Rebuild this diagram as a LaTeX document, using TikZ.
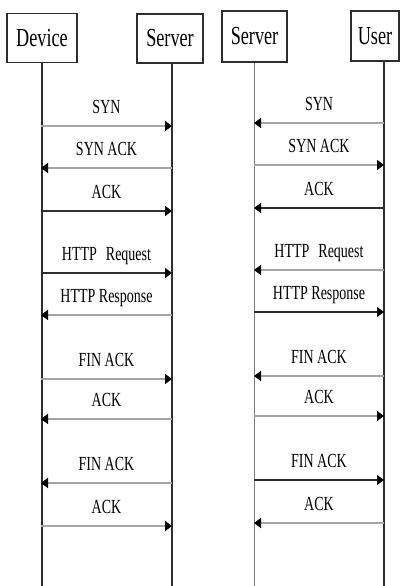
\documentclass[tikz,border=0pt]{standalone}
\usepackage{fontspec}
\setmainfont[FakeStretch=0.7]{Liberation Serif}
\usetikzlibrary{arrows.meta}

\definecolor{msggray}{HTML}{A6A6A6}
\definecolor{msgdark}{HTML}{2E2E2E}
\tikzset{
  party/.style={draw=msgdark, line width=1.3pt, fill=white, inner sep=0pt,
    minimum height=49pt, font=\fontsize{26}{26}\selectfont},
  life/.style={draw=msgdark, line width=1.2pt},
  msg/.style={draw=msggray, line width=2.2pt,
    -{Triangle[length=7pt,width=10pt,color=black]}},
  dark/.style={draw=msgdark},
  lbl/.style={midway, anchor=base, yshift=13pt, inner sep=0pt,
    font=\fontsize{20}{20}\selectfont}
}

\begin{document}
\begin{tikzpicture}[x=1pt,y=-1pt]
  \useasboundingbox (0,0) rectangle (399,586);
  \coordinate (bot) at (0,586);

  % participants
  \node[party, minimum width=70pt] (dev) at (42,38) {Device};
  \node[party, minimum width=66pt] (srv) at (170,38.5) {Server};
  \node[party, minimum width=65pt, minimum height=51pt] (srv2) at (254.5,36.5) {Server};
  \node[party, minimum width=48pt, minimum height=50pt] (usr) at (375,36) {User};

  % lifelines
  \draw[life] (dev.south) -- (dev.south |- bot);
  \draw[life] ([xshift=2pt]srv.south) -- ([xshift=2pt]srv.south |- bot);
  \draw[life, draw=gray] (srv2.south) -- (srv2.south |- bot);
  \draw[life] ([xshift=9pt]usr.south) -- ([xshift=9pt]usr.south |- bot);

  % message rows
  \foreach \y [count=\i] in {126,168,211,273,315,379,419,483,526} {
    \coordinate (d\i) at (41,\y);
    \coordinate (s\i) at (172,\y);
    \coordinate (t\i) at (254,\y-3);
    \coordinate (u\i) at (384,\y-3);
  }

  % device -- server
  \draw[msg] (d1) -- node[lbl]{SYN} (s1);
  \draw[msg] (s2) -- node[lbl]{SYN ACK} (d2);
  \draw[msg,dark] (d3) -- node[lbl]{ACK} (s3);
  \draw[msg,dark] (d4) -- node[lbl]{HTTP\hspace{9pt}Request} (s4);
  \draw[msg] (s5) -- node[lbl]{HTTP Response} (d5);
  \draw[msg] (d6) -- node[lbl]{FIN ACK} (s6);
  \draw[msg] (s7) -- node[lbl]{ACK} (d7);
  \draw[msg] (s8) -- node[lbl]{FIN ACK} (d8);
  \draw[msg] (d9) -- node[lbl]{ACK} (s9);

  % server -- user
  \draw[msg] (u1) -- node[lbl]{SYN} (t1);
  \draw[msg] (t2) -- node[lbl]{SYN ACK} (u2);
  \draw[msg,dark] (u3) -- node[lbl]{ACK} (t3);
  \draw[msg] (u4) -- node[lbl]{HTTP\hspace{9pt}Request} (t4);
  \draw[msg,dark] (t5) -- node[lbl]{HTTP Response} (u5);
  \draw[msg] (u6) -- node[lbl]{FIN ACK} (t6);
  \draw[msg] (t7) -- node[lbl]{ACK} (u7);
  \draw[msg,dark] (t8) -- node[lbl]{FIN ACK} (u8);
  \draw[msg] (u9) -- node[lbl]{ACK} (t9);
\end{tikzpicture}
\end{document}
